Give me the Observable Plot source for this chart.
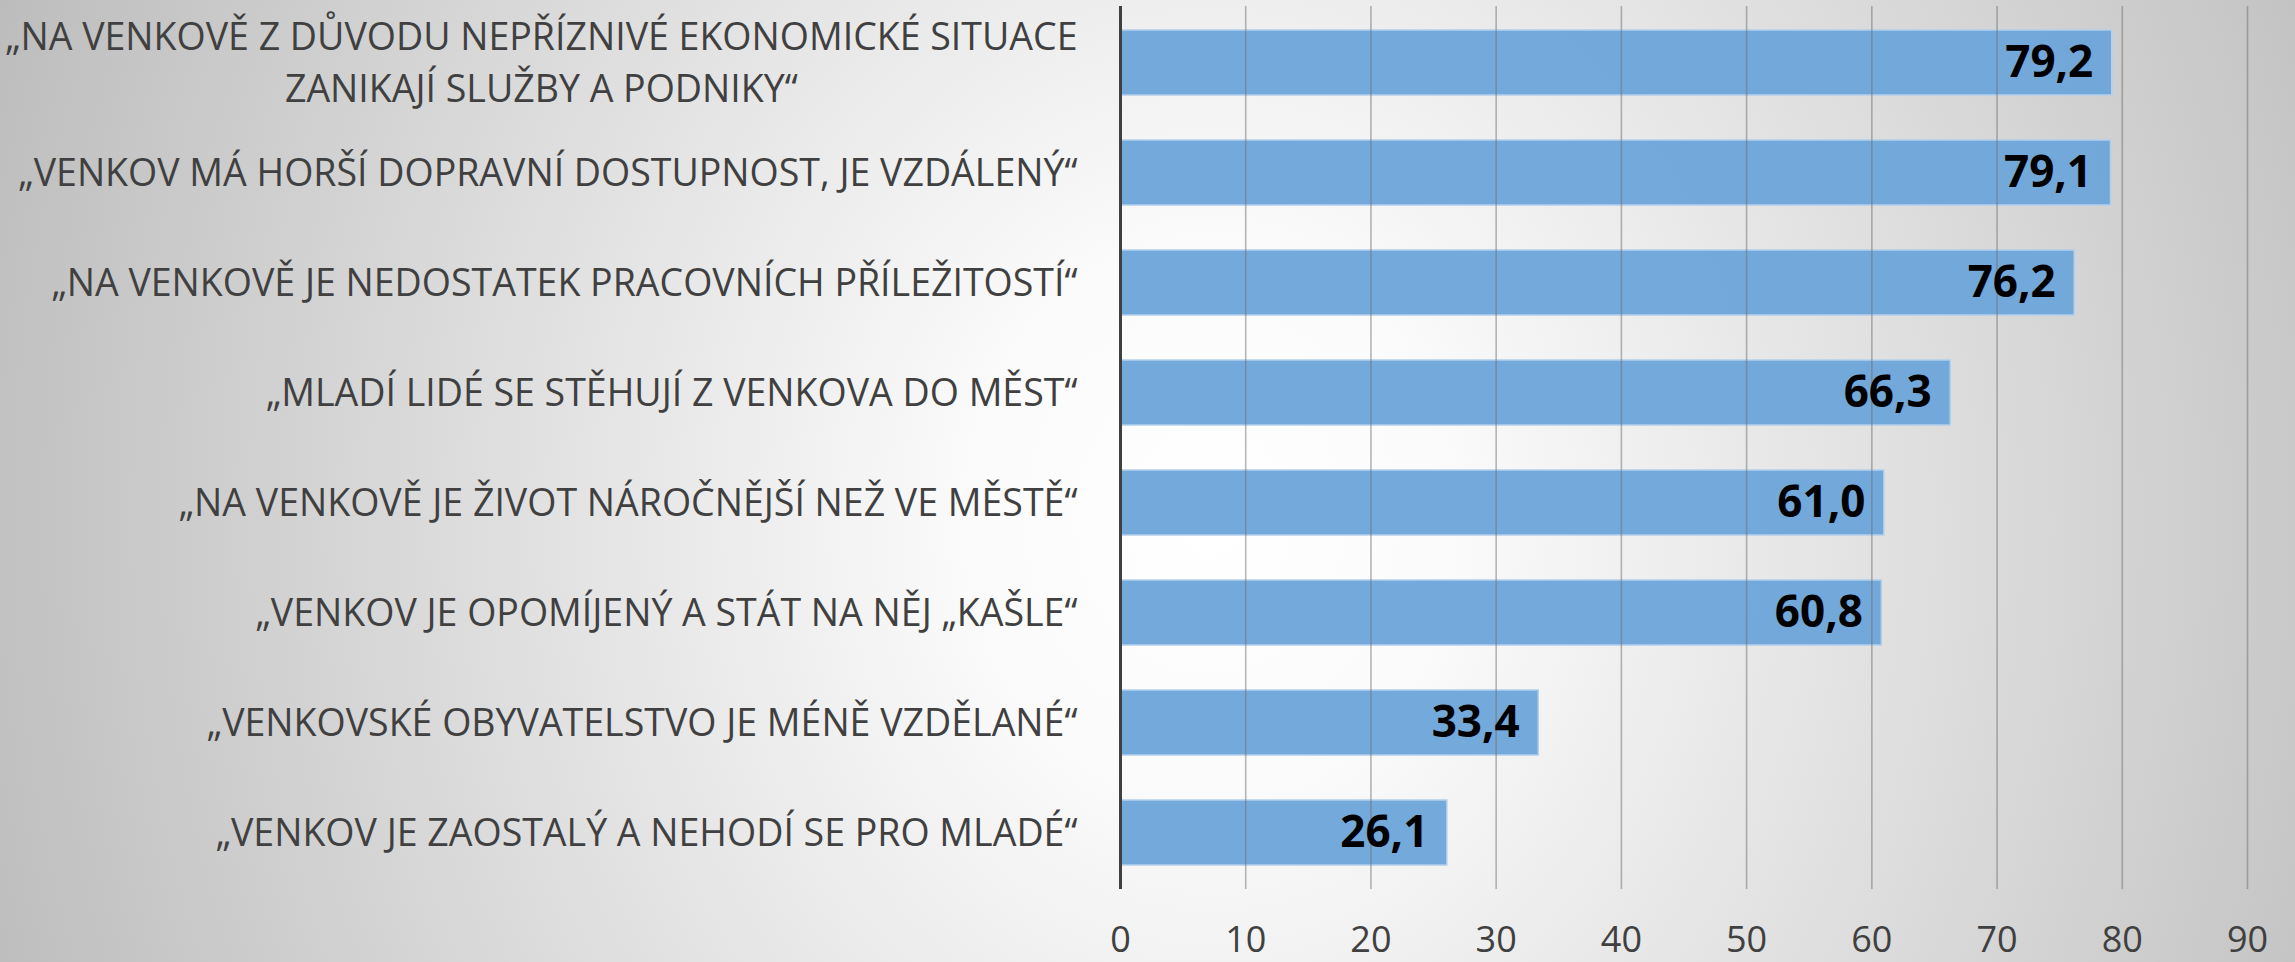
<!DOCTYPE html>
<html>
<head>
<meta charset="utf-8">
<script src="https://cdn.jsdelivr.net/npm/d3@7"></script>
<script src="https://cdn.jsdelivr.net/npm/@observablehq/plot@0.6"></script>
<style>
  html, body { margin: 0; padding: 0; overflow: hidden; }
  body { width: 2295px; height: 962px; }
  #chart svg { display: block; }
</style>
</head>
<body>
<div id="chart"></div>
<script>
const categories = [
  "„NA VENKOVĚ Z DŮVODU NEPŘÍZNIVÉ EKONOMICKÉ SITUACE\nZANIKAJÍ SLUŽBY A PODNIKY“",
  "„VENKOV MÁ HORŠÍ DOPRAVNÍ DOSTUPNOST, JE VZDÁLENÝ“",
  "„NA VENKOVĚ JE NEDOSTATEK PRACOVNÍCH PŘÍLEŽITOSTÍ“",
  "„MLADÍ LIDÉ SE STĚHUJÍ Z VENKOVA DO MĚST“",
  "„NA VENKOVĚ JE ŽIVOT NÁROČNĚJŠÍ NEŽ VE MĚSTĚ“",
  "„VENKOV JE OPOMÍJENÝ A STÁT NA NĚJ „KAŠLE“",
  "„VENKOVSKÉ OBYVATELSTVO JE MÉNĚ VZDĚLANÉ“",
  "„VENKOV JE ZAOSTALÝ A NEHODÍ SE PRO MLADÉ“"
];
const values = [79.2, 79.1, 76.2, 66.3, 61.0, 60.8, 33.4, 26.1];
const xTicks = [0, 10, 20, 30, 40, 50, 60, 70, 80, 90];

const data = categories.map((c, i) => ({category: c, value: values[i]}));
const fmt = d => d.toFixed(1).replace(".", ",");

const chart = Plot.plot({
  width: 2295,
  height: 962,
  marginLeft: 1120,
  marginRight: 48,
  marginTop: 6,
  marginBottom: 73,
  style: {
    background: "radial-gradient(1300px 1500px at 1210px 520px, #ffffff 0%, #fbfbfb 18%, #bcbcbc 100%)",
    fontFamily: "'Open Sans', sans-serif",
    color: "#404040"
  },
  x: {domain: [0, 90]},
  y: {domain: categories, paddingInner: 0.41, paddingOuter: 0.205, align: 0.5},
  marks: [
    Plot.barX(data, {
      x: "value", y: "category",
      fill: "#6ea6db", fillOpacity: 0.96,
      stroke: "#b3cfec", strokeWidth: 1.5
    }),
    Plot.ruleX(xTicks.filter(d => d > 0), {stroke: "#707070", strokeOpacity: 0.5, strokeWidth: 1.6}),
    Plot.ruleX([0], {stroke: "#404040", strokeWidth: 3}),
    Plot.text(data, {
      x: "value", y: "category",
      text: d => fmt(d.value),
      textAnchor: "end", dx: -19,
      fontSize: 44, fontWeight: "bold", fill: "#000000"
    }),
    Plot.axisX({
      ticks: xTicks, tickSize: 0, tickPadding: 37,
      fontSize: 36, label: null, fill: "#404040"
    }),
    Plot.axisY({
      tickSize: 0, tickPadding: 43, dy: -4,
      fontSize: 37.5, label: null, fill: "#404040",
      lineHeight: 1.4
    })
  ]
});

document.getElementById("chart").appendChild(chart);

// Center the lines of multi-line y-axis labels within their block (right-aligned block)
d3.select(chart).selectAll("g[aria-label='y-axis tick label'] text").each(function() {
  const tspans = this.querySelectorAll("tspan");
  if (tspans.length > 1) {
    const widths = Array.from(tspans, t => t.getComputedTextLength());
    const maxW = Math.max(...widths);
    this.setAttribute("text-anchor", "middle");
    tspans.forEach(t => t.setAttribute("x", -maxW / 2));
  }
});
</script>
</body>
</html>
